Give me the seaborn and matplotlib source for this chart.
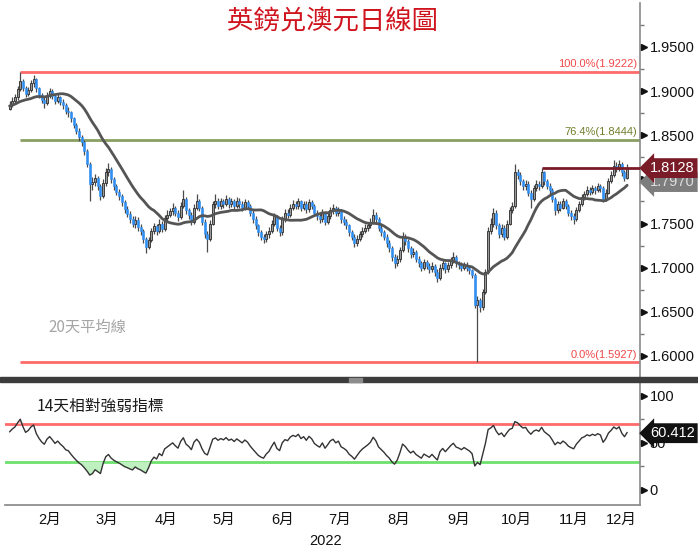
import numpy as np
import pandas as pd
import matplotlib
matplotlib.use("Agg")
import matplotlib.pyplot as plt
import seaborn as sns
from matplotlib import font_manager
from matplotlib.patches import Rectangle
from matplotlib.transforms import blended_transform_factory

# ---------------- data ----------------
start_date = "2022-01-25"

pre_closes = [1.858, 1.862, 1.855, 1.860, 1.866, 1.870, 1.868, 1.874, 1.872, 1.880,
              1.885, 1.879, 1.888, 1.893, 1.890, 1.885, 1.892, 1.896, 1.889, 1.884,
              1.880, 1.878, 1.885, 1.882, 1.880]

closes = [
    1.884, 1.889, 1.893, 1.902, 1.912, 1.904, 1.897, 1.901, 1.909, 1.914,
    1.903, 1.896, 1.890, 1.886, 1.895, 1.900, 1.895, 1.889, 1.893, 1.888,
    1.884, 1.878, 1.876, 1.869, 1.862, 1.855, 1.848, 1.842, 1.832, 1.818,
    1.795, 1.797, 1.802, 1.792, 1.781, 1.796, 1.808, 1.812, 1.800, 1.792,
    1.786, 1.781, 1.774, 1.766, 1.761, 1.755, 1.750, 1.754, 1.746, 1.741,
    1.732, 1.724, 1.731, 1.741, 1.747, 1.741, 1.750, 1.744, 1.756, 1.760,
    1.764, 1.768, 1.762, 1.757, 1.770, 1.778, 1.765, 1.760, 1.752, 1.768,
    1.775, 1.768, 1.752, 1.738, 1.733, 1.750, 1.772, 1.776, 1.770, 1.775,
    1.772, 1.778, 1.772, 1.775, 1.770, 1.776, 1.772, 1.768, 1.774, 1.770,
    1.762, 1.755, 1.748, 1.740, 1.735, 1.732, 1.738, 1.742, 1.750, 1.758,
    1.745, 1.740, 1.755, 1.762, 1.760, 1.768, 1.772, 1.770, 1.775, 1.768,
    1.772, 1.766, 1.774, 1.770, 1.762, 1.758, 1.755, 1.762, 1.752, 1.758,
    1.765, 1.768, 1.762, 1.765, 1.755, 1.752, 1.748, 1.740, 1.735, 1.728,
    1.733, 1.738, 1.742, 1.745, 1.748, 1.752, 1.760, 1.755, 1.745, 1.740,
    1.735, 1.728, 1.722, 1.712, 1.705, 1.710, 1.720, 1.735, 1.730, 1.722,
    1.715, 1.718, 1.710, 1.705, 1.700, 1.706, 1.702, 1.698, 1.702, 1.695,
    1.688, 1.700, 1.705, 1.698, 1.703, 1.708, 1.712, 1.705, 1.703, 1.700,
    1.703, 1.700, 1.697, 1.692, 1.658, 1.663, 1.655, 1.672, 1.695, 1.742,
    1.750, 1.762, 1.748, 1.738, 1.745, 1.735, 1.750, 1.765, 1.770, 1.808,
    1.805, 1.798, 1.792, 1.795, 1.785, 1.778, 1.790, 1.795, 1.792, 1.808,
    1.798, 1.793, 1.788, 1.778, 1.765, 1.772, 1.768, 1.775, 1.770, 1.762,
    1.758, 1.755, 1.765, 1.772, 1.780, 1.783, 1.788, 1.786, 1.790, 1.788,
    1.792, 1.790, 1.778, 1.785, 1.798, 1.805, 1.815, 1.812, 1.818, 1.808,
    1.802, 1.8128]

highs = [
    1.889, 1.893, 1.897, 1.906, 1.9222, 1.914, 1.906, 1.905, 1.913, 1.918,
    1.915, 1.905, 1.898, 1.893, 1.899, 1.904, 1.902, 1.897, 1.897, 1.895,
    1.891, 1.887, 1.882, 1.878, 1.871, 1.864, 1.858, 1.850, 1.845, 1.834,
    1.820, 1.803, 1.806, 1.804, 1.795, 1.800, 1.813, 1.819, 1.814, 1.803,
    1.795, 1.789, 1.784, 1.777, 1.770, 1.764, 1.758, 1.758, 1.757, 1.749,
    1.744, 1.735, 1.735, 1.745, 1.751, 1.750, 1.755, 1.753, 1.760, 1.765,
    1.768, 1.773, 1.770, 1.765, 1.774, 1.788, 1.780, 1.768, 1.763, 1.772,
    1.783, 1.778, 1.770, 1.755, 1.741, 1.754, 1.776, 1.783, 1.779, 1.779,
    1.778, 1.782, 1.780, 1.779, 1.778, 1.780, 1.779, 1.775, 1.778, 1.777,
    1.772, 1.765, 1.758, 1.750, 1.743, 1.738, 1.742, 1.746, 1.754, 1.762,
    1.760, 1.748, 1.759, 1.766, 1.766, 1.772, 1.777, 1.776, 1.779, 1.777,
    1.776, 1.775, 1.778, 1.777, 1.772, 1.765, 1.762, 1.766, 1.764, 1.762,
    1.769, 1.772, 1.770, 1.769, 1.767, 1.759, 1.755, 1.750, 1.743, 1.738,
    1.737, 1.742, 1.746, 1.749, 1.752, 1.756, 1.766, 1.763, 1.757, 1.748,
    1.743, 1.738, 1.731, 1.725, 1.715, 1.714, 1.724, 1.740, 1.738, 1.732,
    1.725, 1.722, 1.720, 1.713, 1.708, 1.710, 1.709, 1.705, 1.706, 1.704,
    1.698, 1.704, 1.709, 1.707, 1.707, 1.712, 1.718, 1.714, 1.708, 1.706,
    1.707, 1.706, 1.703, 1.699, 1.694, 1.668, 1.666, 1.676, 1.699, 1.746,
    1.756, 1.768, 1.765, 1.751, 1.749, 1.748, 1.754, 1.769, 1.774, 1.818,
    1.812, 1.808, 1.801, 1.799, 1.798, 1.788, 1.794, 1.799, 1.798, 1.8128,
    1.810, 1.801, 1.796, 1.790, 1.780, 1.776, 1.775, 1.779, 1.778, 1.772,
    1.765, 1.762, 1.769, 1.776, 1.784, 1.787, 1.792, 1.791, 1.794, 1.793,
    1.796, 1.795, 1.792, 1.789, 1.802, 1.809, 1.822, 1.820, 1.822, 1.820,
    1.811, 1.817]

lows = [
    1.879, 1.882, 1.886, 1.890, 1.900, 1.900, 1.893, 1.894, 1.899, 1.905,
    1.899, 1.892, 1.886, 1.881, 1.884, 1.892, 1.891, 1.885, 1.886, 1.884,
    1.880, 1.874, 1.871, 1.865, 1.858, 1.851, 1.844, 1.838, 1.828, 1.814,
    1.775, 1.788, 1.792, 1.788, 1.777, 1.779, 1.793, 1.804, 1.796, 1.788,
    1.782, 1.777, 1.770, 1.762, 1.757, 1.751, 1.746, 1.745, 1.742, 1.737,
    1.728, 1.717, 1.721, 1.729, 1.738, 1.737, 1.739, 1.740, 1.742, 1.752,
    1.757, 1.760, 1.758, 1.753, 1.755, 1.768, 1.761, 1.755, 1.748, 1.750,
    1.765, 1.764, 1.748, 1.734, 1.718, 1.730, 1.748, 1.768, 1.766, 1.767,
    1.768, 1.770, 1.768, 1.769, 1.766, 1.768, 1.768, 1.764, 1.765, 1.766,
    1.758, 1.751, 1.744, 1.736, 1.731, 1.728, 1.729, 1.734, 1.739, 1.747,
    1.741, 1.736, 1.737, 1.752, 1.756, 1.757, 1.765, 1.766, 1.767, 1.764,
    1.765, 1.762, 1.763, 1.766, 1.758, 1.754, 1.751, 1.752, 1.748, 1.749,
    1.755, 1.761, 1.758, 1.759, 1.751, 1.748, 1.744, 1.736, 1.731, 1.723,
    1.725, 1.730, 1.735, 1.739, 1.742, 1.745, 1.749, 1.751, 1.741, 1.736,
    1.731, 1.724, 1.718, 1.708, 1.700, 1.702, 1.707, 1.718, 1.726, 1.718,
    1.711, 1.712, 1.706, 1.701, 1.696, 1.697, 1.698, 1.694, 1.695, 1.691,
    1.684, 1.686, 1.697, 1.694, 1.695, 1.700, 1.705, 1.701, 1.699, 1.696,
    1.697, 1.696, 1.693, 1.688, 1.654, 1.5927, 1.650, 1.652, 1.670, 1.693,
    1.738, 1.746, 1.744, 1.734, 1.735, 1.731, 1.733, 1.748, 1.762, 1.768,
    1.800, 1.794, 1.788, 1.788, 1.781, 1.768, 1.775, 1.787, 1.788, 1.790,
    1.794, 1.789, 1.784, 1.774, 1.760, 1.762, 1.764, 1.766, 1.766, 1.758,
    1.754, 1.750, 1.753, 1.763, 1.770, 1.777, 1.781, 1.782, 1.784, 1.784,
    1.786, 1.786, 1.774, 1.776, 1.783, 1.796, 1.803, 1.808, 1.809, 1.804,
    1.798, 1.800]

month_labels = ["2月", "3月", "4月", "5月", "6月", "7月", "8月", "9月", "10月", "11月", "12月"]
year_label = "2022"
title_text = "英鎊兑澳元日線圖"
ma_text = "20天平均線"
rsi_text = "14天相對強弱指標"

fib_levels = [1.9222, 1.8444, 1.5927]
fib_labels = ["100.0%(1.9222)", "76.4%(1.8444)", "0.0%(1.5927)"]
fib_start_bar = 4
price_ticks = [1.60, 1.65, 1.70, 1.75, 1.80, 1.85, 1.90, 1.95]
price_minor = [1.625, 1.675, 1.725, 1.775, 1.825, 1.875, 1.925, 1.975]
rsi_ticks = [0, 50, 100]
rsi_minor = [25, 75]
rsi_upper, rsi_lower = 70, 30

last_price = 1.8128
last_price_text = "1.8128"
resist_start_bar = 199
ma_last = 1.7970
ma_last_text = "1.7970"
rsi_last = 60.412
rsi_last_text = "60.412"

assert len(closes) == len(highs) == len(lows)

# ---------------- derived ----------------
n = len(closes)
dates = pd.bdate_range(start_date, periods=n)
idx = np.arange(n)
opens = [pre_closes[-1]] + closes[:-1]
all_close = pd.Series(pre_closes + closes)
ma20 = all_close.rolling(20).mean().iloc[len(pre_closes):].to_numpy()
delta = all_close.diff()
gain = delta.clip(lower=0).ewm(alpha=1 / 14, adjust=False).mean()
loss = (-delta.clip(upper=0)).ewm(alpha=1 / 14, adjust=False).mean()
rsi = (100 - 100 / (1 + gain / loss)).iloc[len(pre_closes):].to_numpy()

df = pd.DataFrame({"i": idx, "open": opens, "close": closes, "high": highs,
                   "low": lows, "ma": ma20, "rsi": rsi})

# ---------------- style ----------------
sns.set_theme(style="white")
cjk = ["Noto Sans CJK TC", "DejaVu Sans"]
plt.rcParams["font.family"] = cjk
names = {f.name for f in font_manager.fontManager.ttflist}
if "Liberation Sans Narrow" in names:
    narrow, nsize, fsize = "Liberation Sans Narrow", 13, 10
else:
    narrow, nsize, fsize = "Liberation Sans", 10.5, 8
narrow_cjk = [narrow, "Noto Sans CJK TC", "DejaVu Sans"]

fig = plt.figure(figsize=(6.98, 5.5), dpi=100)
W, H = 698.0, 550.0
ax = fig.add_axes([5 / W, 1 - 377 / H, 635 / W, 374 / H])
axr = fig.add_axes([5 / W, 1 - 505 / H, 635 / W, 122 / H])

xl = (-1.7, 235.8)
ax.set_xlim(*xl)
axr.set_xlim(*xl)
ax.set_ylim(1.5762, 1.9998)
axr.set_ylim(-16, 113.8)

# candles
up = df["close"] >= df["open"]
ax.vlines(df["i"], df["low"], df["high"], color="#4a4a4a", lw=0.9, zorder=2)
body_h = (df["close"] - df["open"]).abs().clip(lower=0.0008)
body_b = np.minimum(df["open"], df["close"])
ax.bar(df["i"][up], body_h[up], bottom=body_b[up], width=0.75,
       color="#9a9a9a", edgecolor="#2a2a2a", linewidth=0.6, zorder=3)
ax.bar(df["i"][~up], body_h[~up], bottom=body_b[~up], width=0.75,
       color="#2e8ff5", edgecolor="#2e8ff5", linewidth=0.4, zorder=3)

# moving average
sns.lineplot(data=df, x="i", y="ma", ax=ax, color="#555555", lw=2.0, zorder=4)

# fibonacci lines
fib_colors = ["#ff6a6a", "#8a9f62", "#ff6a6a"]
txt_colors = ["#f04848", "#6f7f2a", "#f04848"]
for lvl, lab, c, tc in zip(fib_levels, fib_labels, fib_colors, txt_colors):
    ax.hlines(lvl, fib_start_bar, xl[1], color=c, lw=2.0, zorder=1)
    ax.annotate(lab, xy=(234.6, lvl), xytext=(0, 2), textcoords="offset points",
                ha="right", va="bottom", color=tc, fontsize=fsize, family=narrow)

# resistance / last price line
ax.hlines(last_price, resist_start_bar, xl[1], color="#7a1c28", lw=2.0, zorder=5)

# axes styling
for a in (ax, axr):
    for s in ("left", "top"):
        a.spines[s].set_visible(False)
    a.spines["right"].set_color("#8a8a8a")
    a.spines["right"].set_linewidth(1.2)
    a.yaxis.tick_right()
    a.grid(False)
ax.spines["bottom"].set_visible(False)
axr.spines["bottom"].set_color("#8a8a8a")

ax.set_yticks(price_ticks)
ax.set_yticklabels([f"{t:.4f}" for t in price_ticks], family=narrow, fontsize=nsize)
ax.set_yticks(price_minor, minor=True)
axr.set_yticks(rsi_ticks)
axr.set_yticklabels([str(t) for t in rsi_ticks], family=narrow, fontsize=nsize)
axr.set_yticks(rsi_minor, minor=True)
for a in (ax, axr):
    a.tick_params(axis="y", which="major", length=0, pad=7, colors="#111111")
    a.tick_params(axis="y", which="minor", length=3, width=1, color="#777777", direction="out")
ax.set_xticks([])

for a, ticks in ((ax, price_ticks), (axr, rsi_ticks)):
    tr = blended_transform_factory(a.transAxes, a.transData)
    a.plot([1.0 + 3.5 / 635] * len(ticks), ticks, ls="none", marker=">", ms=4.5,
           color="#111111", transform=tr, clip_on=False, zorder=6)

# month ticks
month_start = [i for i in range(1, n) if dates[i].month != dates[i - 1].month]
bounds = month_start + [xl[1]]
centers = [(bounds[k] + bounds[k + 1]) / 2 for k in range(len(month_start))]
axr.set_xticks(centers)
axr.set_xticklabels(month_labels, family=narrow_cjk, fontsize=nsize)
axr.set_xticks(month_start, minor=True)
axr.tick_params(axis="x", which="major", length=0, pad=6, colors="#111111")
axr.tick_params(axis="x", which="minor", length=6, width=1, color="#777777", direction="out")

# RSI panel
axr.axhline(rsi_upper, color="#ff6a6a", lw=2.0, zorder=1)
axr.axhline(rsi_lower, color="#6ee06e", lw=2.0, zorder=1)
axr.fill_between(df["i"], df["rsi"], rsi_lower, where=df["rsi"] < rsi_lower,
                 interpolate=True, color="#bff0bf", lw=0, zorder=1)
axr.fill_between(df["i"], df["rsi"], rsi_upper, where=df["rsi"] > rsi_upper,
                 interpolate=True, color="#f8c4c4", lw=0, zorder=1)
sns.lineplot(data=df, x="i", y="rsi", ax=axr, color="#333333", lw=1.0, zorder=3)
for a in (ax, axr):
    a.set_xlabel("")
    a.set_ylabel("")

# right side value labels
trm = blended_transform_factory(ax.transAxes, ax.transData)
ax.text(1.0 + 10 / 635, ma_last, ma_last_text, transform=trm, ha="left", va="center",
        color="#dddddd", fontsize=nsize, family=narrow, zorder=20, clip_on=False,
        bbox=dict(boxstyle="larrow,pad=0.2", fc="#7d7d7d", ec="none"))
ax.text(1.0 + 10 / 635, last_price, last_price_text, transform=trm, ha="left", va="center",
        color="white", fontsize=nsize, family=narrow, zorder=21, clip_on=False,
        bbox=dict(boxstyle="larrow,pad=0.2", fc="#7a1c28", ec="none"))
trr = blended_transform_factory(axr.transAxes, axr.transData)
axr.text(1.0 + 10 / 635, rsi_last, rsi_last_text, transform=trr, ha="left", va="center",
         color="white", fontsize=nsize, family=narrow, zorder=21, clip_on=False,
         bbox=dict(boxstyle="larrow,pad=0.2", fc="#111111", ec="none"))

# separator bar
fig.patches.append(Rectangle((0, 1 - 382 / H), 1, 5 / H, transform=fig.transFigure,
                             color="#3c3c3c", zorder=10))
fig.patches.append(Rectangle((349 / W, 1 - 381.5 / H), 13 / W, 3.5 / H, transform=fig.transFigure,
                             color="#8c8c8c", zorder=11))

# texts
fig.text(332 / W, 1 - 22 / H, title_text, ha="center", va="center", color="#d0141e",
         fontsize=19, family=cjk)
fig.text(48 / W, 1 - 327 / H, ma_text, ha="left", va="center", color="#a5a5a5",
         fontsize=11, family=cjk)
fig.text(37 / W, 1 - 406 / H, rsi_text, ha="left", va="center", color="#1a1a1a",
         fontsize=11.3, family=cjk)
fig.text(326 / W, 1 - 541 / H, year_label, ha="center", va="center", color="#111111",
         fontsize=nsize, family=narrow)

fig.savefig("out.png", dpi=100)
